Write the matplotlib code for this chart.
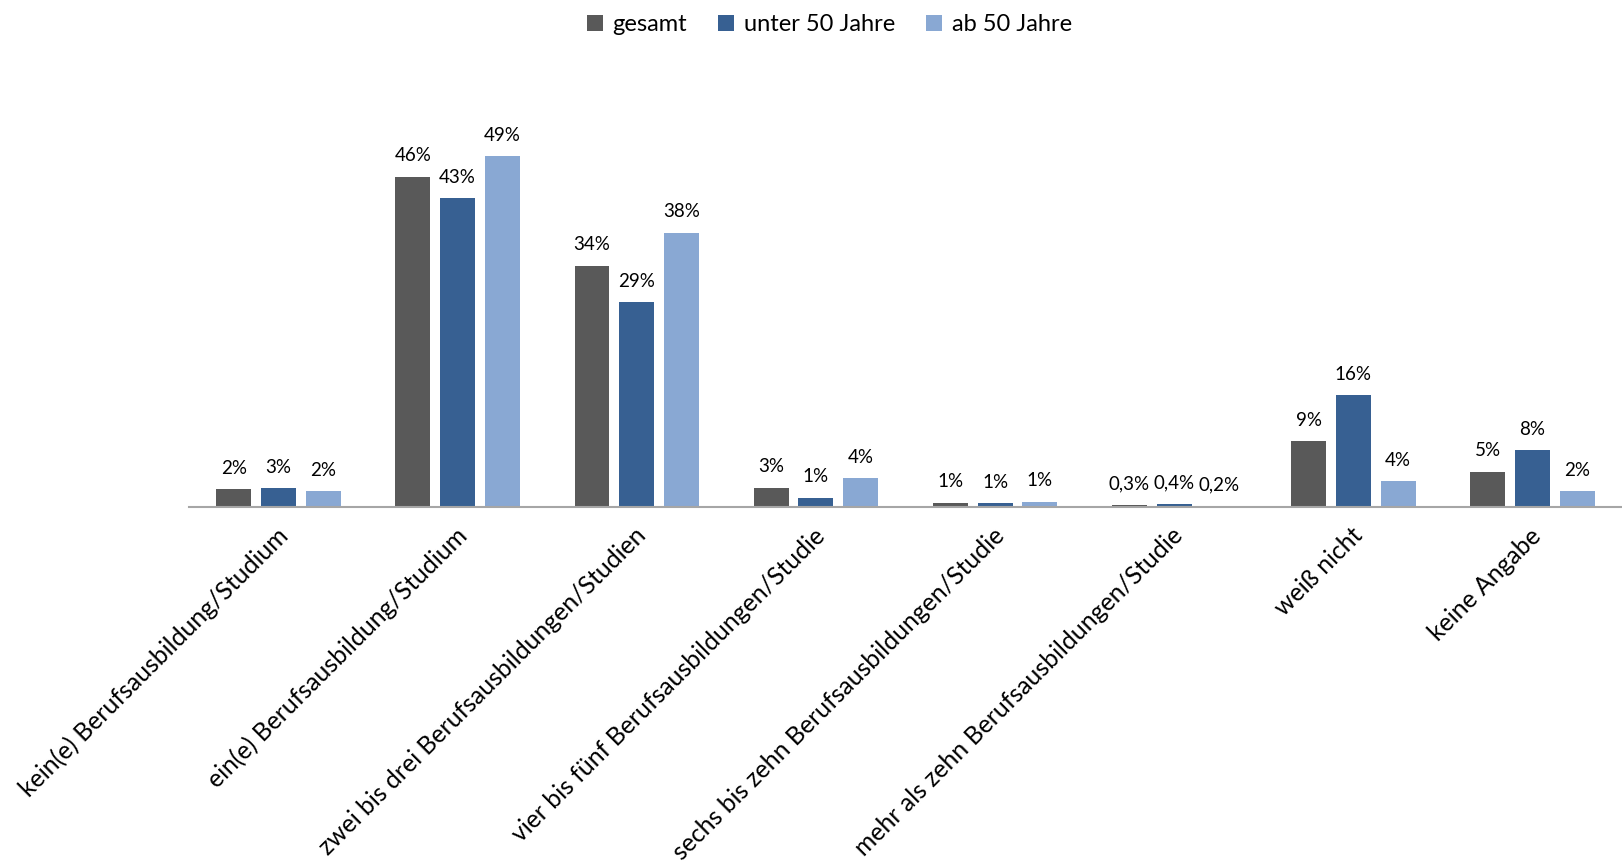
import numpy as np
import matplotlib
matplotlib.use("Agg")
import matplotlib.pyplot as plt

categories = [
    "kein(e) Berufsausbildung/Studium",
    "ein(e) Berufsausbildung/Studium",
    "zwei bis drei Berufsausbildungen/Studien",
    "vier bis fünf Berufsausbildungen/Studie",
    "sechs bis zehn Berufsausbildungen/Studie",
    "mehr als zehn Berufsausbildungen/Studie",
    "weiß nicht",
    "keine Angabe",
]
series_names = ["gesamt", "unter 50 Jahre", "ab 50 Jahre"]

gesamt = [2.5, 46.1, 33.7, 2.7, 0.6, 0.3, 9.2, 4.9]
unter_50 = [2.6, 43.1, 28.6, 1.3, 0.5, 0.4, 15.6, 7.9]
ab_50 = [2.2, 49.0, 38.3, 4.0, 0.7, 0.2, 3.6, 2.2]

gesamt_labels = ["2%", "46%", "34%", "3%", "1%", "0,3%", "9%", "5%"]
unter_50_labels = ["3%", "43%", "29%", "1%", "1%", "0,4%", "16%", "8%"]
ab_50_labels = ["2%", "49%", "38%", "4%", "1%", "0,2%", "4%", "2%"]

colors = ["#595959", "#376092", "#89A8D3"]

plt.rcParams["font.family"] = ["Lato", "DejaVu Sans"]

fig = plt.figure(figsize=(16.22, 8.64), dpi=100)
ax = fig.add_axes([189 / 1622, 1 - 507 / 864, 1433 / 1622, 457 / 864])

x = np.arange(len(categories))
pitch = 0.25
width = 0.195
all_vals = [gesamt, unter_50, ab_50]
all_labels = [gesamt_labels, unter_50_labels, ab_50_labels]

for i, (vals, labs) in enumerate(zip(all_vals, all_labels)):
    pos = x + (i - 1) * pitch
    bars = ax.bar(pos, vals, width, color=colors[i], label=series_names[i])
    for b, lab in zip(bars, labs):
        ax.annotate(lab, (b.get_x() + b.get_width() / 2, b.get_height()),
                    xytext=(0, 9), textcoords="offset points",
                    ha="center", va="bottom", fontsize=13.5, color="black")

ax.set_xlim(-0.5, len(categories) - 0.5)
ax.set_ylim(0, 457 / 7.16)
ax.set_yticks([])
for s in ["top", "right", "left"]:
    ax.spines[s].set_visible(False)
ax.spines["bottom"].set_color("#A6A6A6")
ax.spines["bottom"].set_linewidth(1.5)

ax.set_xticks(x + 0.03)
ax.set_xticklabels(categories, rotation=45, ha="right", va="center",
                   rotation_mode="anchor", fontsize=17.8)
ax.tick_params(axis="x", length=0, pad=18)

ax.legend(loc="upper center", bbox_to_anchor=(0.5 - 189 / 1622 / 2 + 0.005, 1 + 45 / 457),
          ncol=3, frameon=False, fontsize=17, handlelength=0.7, handleheight=0.7,
          handletextpad=0.4, columnspacing=1.3, borderaxespad=0)

fig.savefig("out.png", dpi=100)
